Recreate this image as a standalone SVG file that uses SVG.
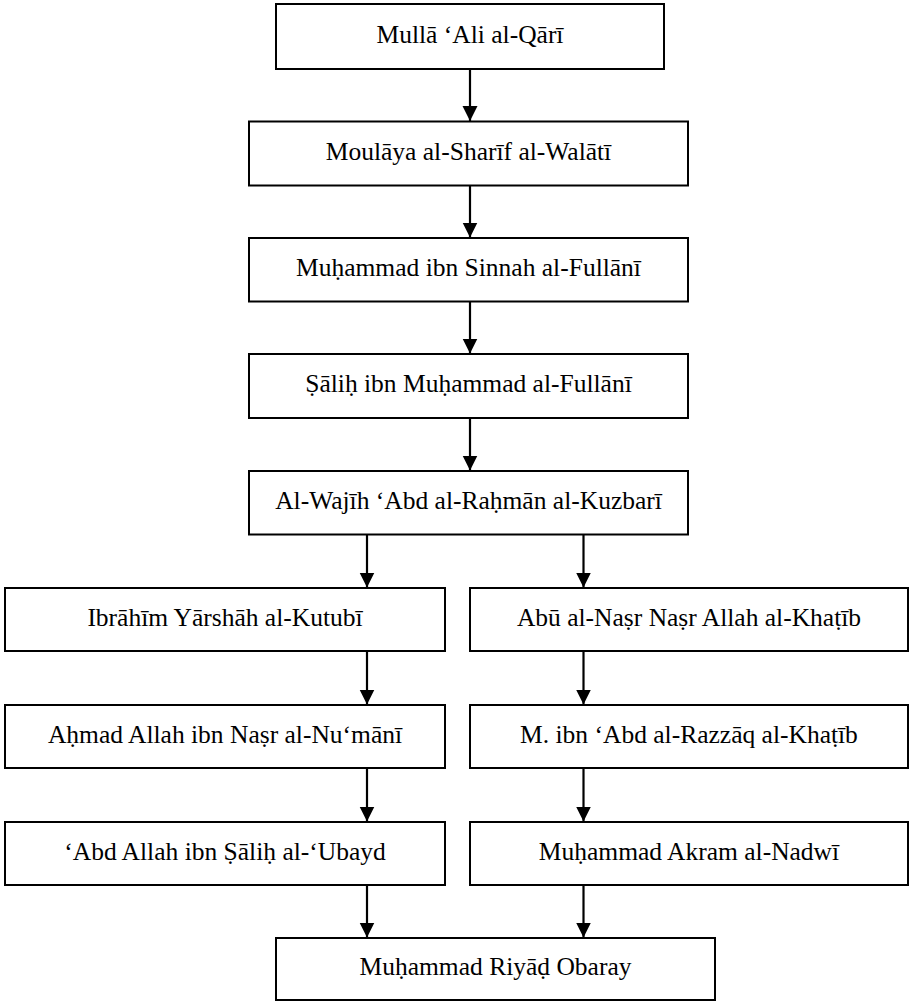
<svg xmlns="http://www.w3.org/2000/svg" width="911" height="1002" viewBox="0 0 911 1002">
<style>
.box{fill:#fff;stroke:#000;stroke-width:2}
.lbl{font-family:"Liberation Serif","Times New Roman",serif;font-size:25.5px;fill:#000;text-anchor:middle}
.conn{stroke:#000;stroke-width:2.2;fill:none;marker-end:url(#ah)}
</style>
<defs>
<marker id="ah" markerUnits="userSpaceOnUse" markerWidth="16" markerHeight="16" viewBox="0 0 16 16" refX="15" refY="8" orient="auto">
<path d="M0,0.5 L15,8 L0,15.5 Z" fill="#000"/>
</marker>
</defs>
<rect width="911" height="1002" fill="#fff"/>
<g id="connectors">
<line class="conn" x1="470" y1="69" x2="470" y2="121"/>
<line class="conn" x1="470" y1="185.5" x2="470" y2="237.5"/>
<line class="conn" x1="470" y1="301.5" x2="470" y2="353.5"/>
<line class="conn" x1="470" y1="418" x2="470" y2="470.5"/>
<line class="conn" x1="367" y1="534.5" x2="367" y2="587.5"/>
<line class="conn" x1="583.5" y1="534.5" x2="583.5" y2="587.5"/>
<line class="conn" x1="367" y1="651" x2="367" y2="704.5"/>
<line class="conn" x1="583.5" y1="651" x2="583.5" y2="704.5"/>
<line class="conn" x1="367" y1="768" x2="367" y2="821.5"/>
<line class="conn" x1="583.5" y1="768" x2="583.5" y2="821.5"/>
<line class="conn" x1="367" y1="885" x2="367" y2="937.5"/>
<line class="conn" x1="583.5" y1="885" x2="583.5" y2="937.5"/>
</g>
<g id="n1"><rect class="box" x="276" y="4" width="388" height="65"/><text class="lbl" x="470" y="42.5">Mullā ‘Ali al-Qārī</text></g>
<g id="n2"><rect class="box" x="249" y="121.5" width="439" height="64"/><text class="lbl" x="468.5" y="159.5">Moulāya al-Sharīf al-Walātī</text></g>
<g id="n3"><rect class="box" x="249" y="238" width="439" height="63.5"/><text class="lbl" x="468.5" y="276">Muḥammad ibn Sinnah al-Fullānī</text></g>
<g id="n4"><rect class="box" x="249" y="354" width="439" height="64"/><text class="lbl" x="468.5" y="392">Ṣāliḥ ibn Muḥammad al-Fullānī</text></g>
<g id="n5"><rect class="box" x="249" y="471" width="439" height="63.5"/><text class="lbl" x="468.5" y="509">Al-Wajīh ‘Abd al-Raḥmān al-Kuzbarī</text></g>
<g id="n6"><rect class="box" x="5" y="588" width="440" height="63"/><text class="lbl" x="225" y="625.5">Ibrāhīm Yārshāh al-Kutubī</text></g>
<g id="n7"><rect class="box" x="470" y="588" width="438" height="63"/><text class="lbl" x="689" y="625.5">Abū al-Naṣr Naṣr Allah al-Khaṭīb</text></g>
<g id="n8"><rect class="box" x="5" y="705" width="440" height="63"/><text class="lbl" x="225" y="742.5">Aḥmad Allah ibn Naṣr al-Nu‘mānī</text></g>
<g id="n9"><rect class="box" x="470" y="705" width="438" height="63"/><text class="lbl" x="689" y="742.5">M. ibn ‘Abd al-Razzāq al-Khaṭīb</text></g>
<g id="n10"><rect class="box" x="5" y="822" width="440" height="63"/><text class="lbl" x="225" y="859.5">‘Abd Allah ibn Ṣāliḥ al-‘Ubayd</text></g>
<g id="n11"><rect class="box" x="470" y="822" width="438" height="63"/><text class="lbl" x="689" y="859.5">Muḥammad Akram al-Nadwī</text></g>
<g id="n12"><rect class="box" x="276" y="938" width="439" height="62"/><text class="lbl" x="495.5" y="975">Muḥammad Riyāḍ Obaray</text></g>
</svg>
